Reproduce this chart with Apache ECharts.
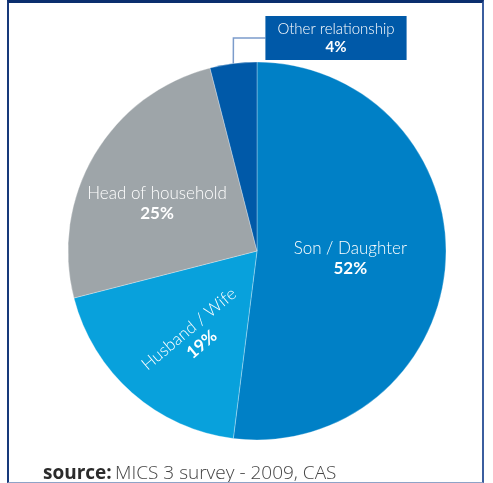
<!DOCTYPE html>
<html>
<head>
<meta charset="utf-8">
<script src="https://cdn.jsdelivr.net/npm/echarts@6/dist/echarts.min.js"></script>
<style>
  html, body { margin: 0; padding: 0; background: #fff; }
  #chart { position: absolute; left: 0; top: 0; width: 493px; height: 483px; }
  #frame {
    position: absolute; left: 7px; top: 0; width: 473px; height: 479px;
    border-top: 3px solid #0b2e6e; border-left: 2px solid #17397a;
    border-right: 2px solid #3b5e9f; border-bottom: 1px solid #8fa3c7;
    pointer-events: none;
  }
</style>
</head>
<body>
<div id="chart"></div>
<div id="frame"></div>
<script>
// relationship to head of household, share in %
const categories = ['Son / Daughter', 'Husband / Wife', 'Head of household', 'Other relationship'];
const shares = [52, 19, 25, 4];
const colors = ['#0080c6', '#08a1dc', '#9ea5a9', '#0059a8'];

const chart = echarts.init(document.getElementById('chart'));

const pieData = categories.map(function (name, i) {
  const item = { name: name, value: shares[i], itemStyle: { color: colors[i] } };
  if (i === 1) {
    item.label = { rotate: 40 };
  }
  if (i === 3) {
    item.label = {
      position: 'outside',
      backgroundColor: '#0059a8',
      padding: [4, 12, 4, 12],
      rich: {
        n: { fontFamily: 'Lato', fontWeight: 300, fontSize: 15, color: '#fff', lineHeight: 18, align: 'center' },
        p: { fontFamily: 'Lato', fontWeight: 'bold', fontSize: 15, color: '#fff', lineHeight: 18, align: 'center' }
      }
    };
    item.labelLine = {
      show: true,
      length: 12,
      length2: 32,
      lineStyle: { color: '#7c9ccb', width: 1.5 }
    };
  }
  return item;
});

chart.setOption({
  animation: false,
  series: [{
    type: 'pie',
    center: [257, 251],
    radius: 189,
    startAngle: 90,
    data: pieData,
    itemStyle: { borderColor: 'rgba(255,255,255,0.5)', borderWidth: 0.6 },
    label: {
      show: true,
      position: 'inside',
      formatter: '{n|{b}}\n{p|{c}%}',
      rich: {
        n: { fontFamily: 'Lato', fontWeight: 300, fontSize: 17, color: '#fff', lineHeight: 21 },
        p: { fontFamily: 'Lato', fontWeight: 'bold', fontSize: 17, color: '#fff', lineHeight: 19 }
      }
    },
    labelLine: { show: false },
    labelLayout: function (params) {
      if (params.dataIndex === 3) {
        return { x: 336, y: 38, align: 'center', verticalAlign: 'middle' };
      }
      if (params.dataIndex === 2) {
        return { dx: -16, dy: 2 };
      }
      if (params.dataIndex === 1) {
        return { dx: -6, dy: 11 };
      }
      return { dx: -4, dy: 1 };
    }
  }],
  graphic: [{
    type: 'text',
    left: 43,
    top: 464,
    style: {
      text: '{b|source:} {l|MICS 3 survey - 2009, CAS}',
      rich: {
        b: { fontFamily: 'Open Sans', fontWeight: 'bold', fontSize: 19, fill: '#2b2b2b' },
        l: { fontFamily: 'Open Sans', fontWeight: 300, fontSize: 19, fill: '#444' }
      }
    }
  }]
});
</script>
</body>
</html>
